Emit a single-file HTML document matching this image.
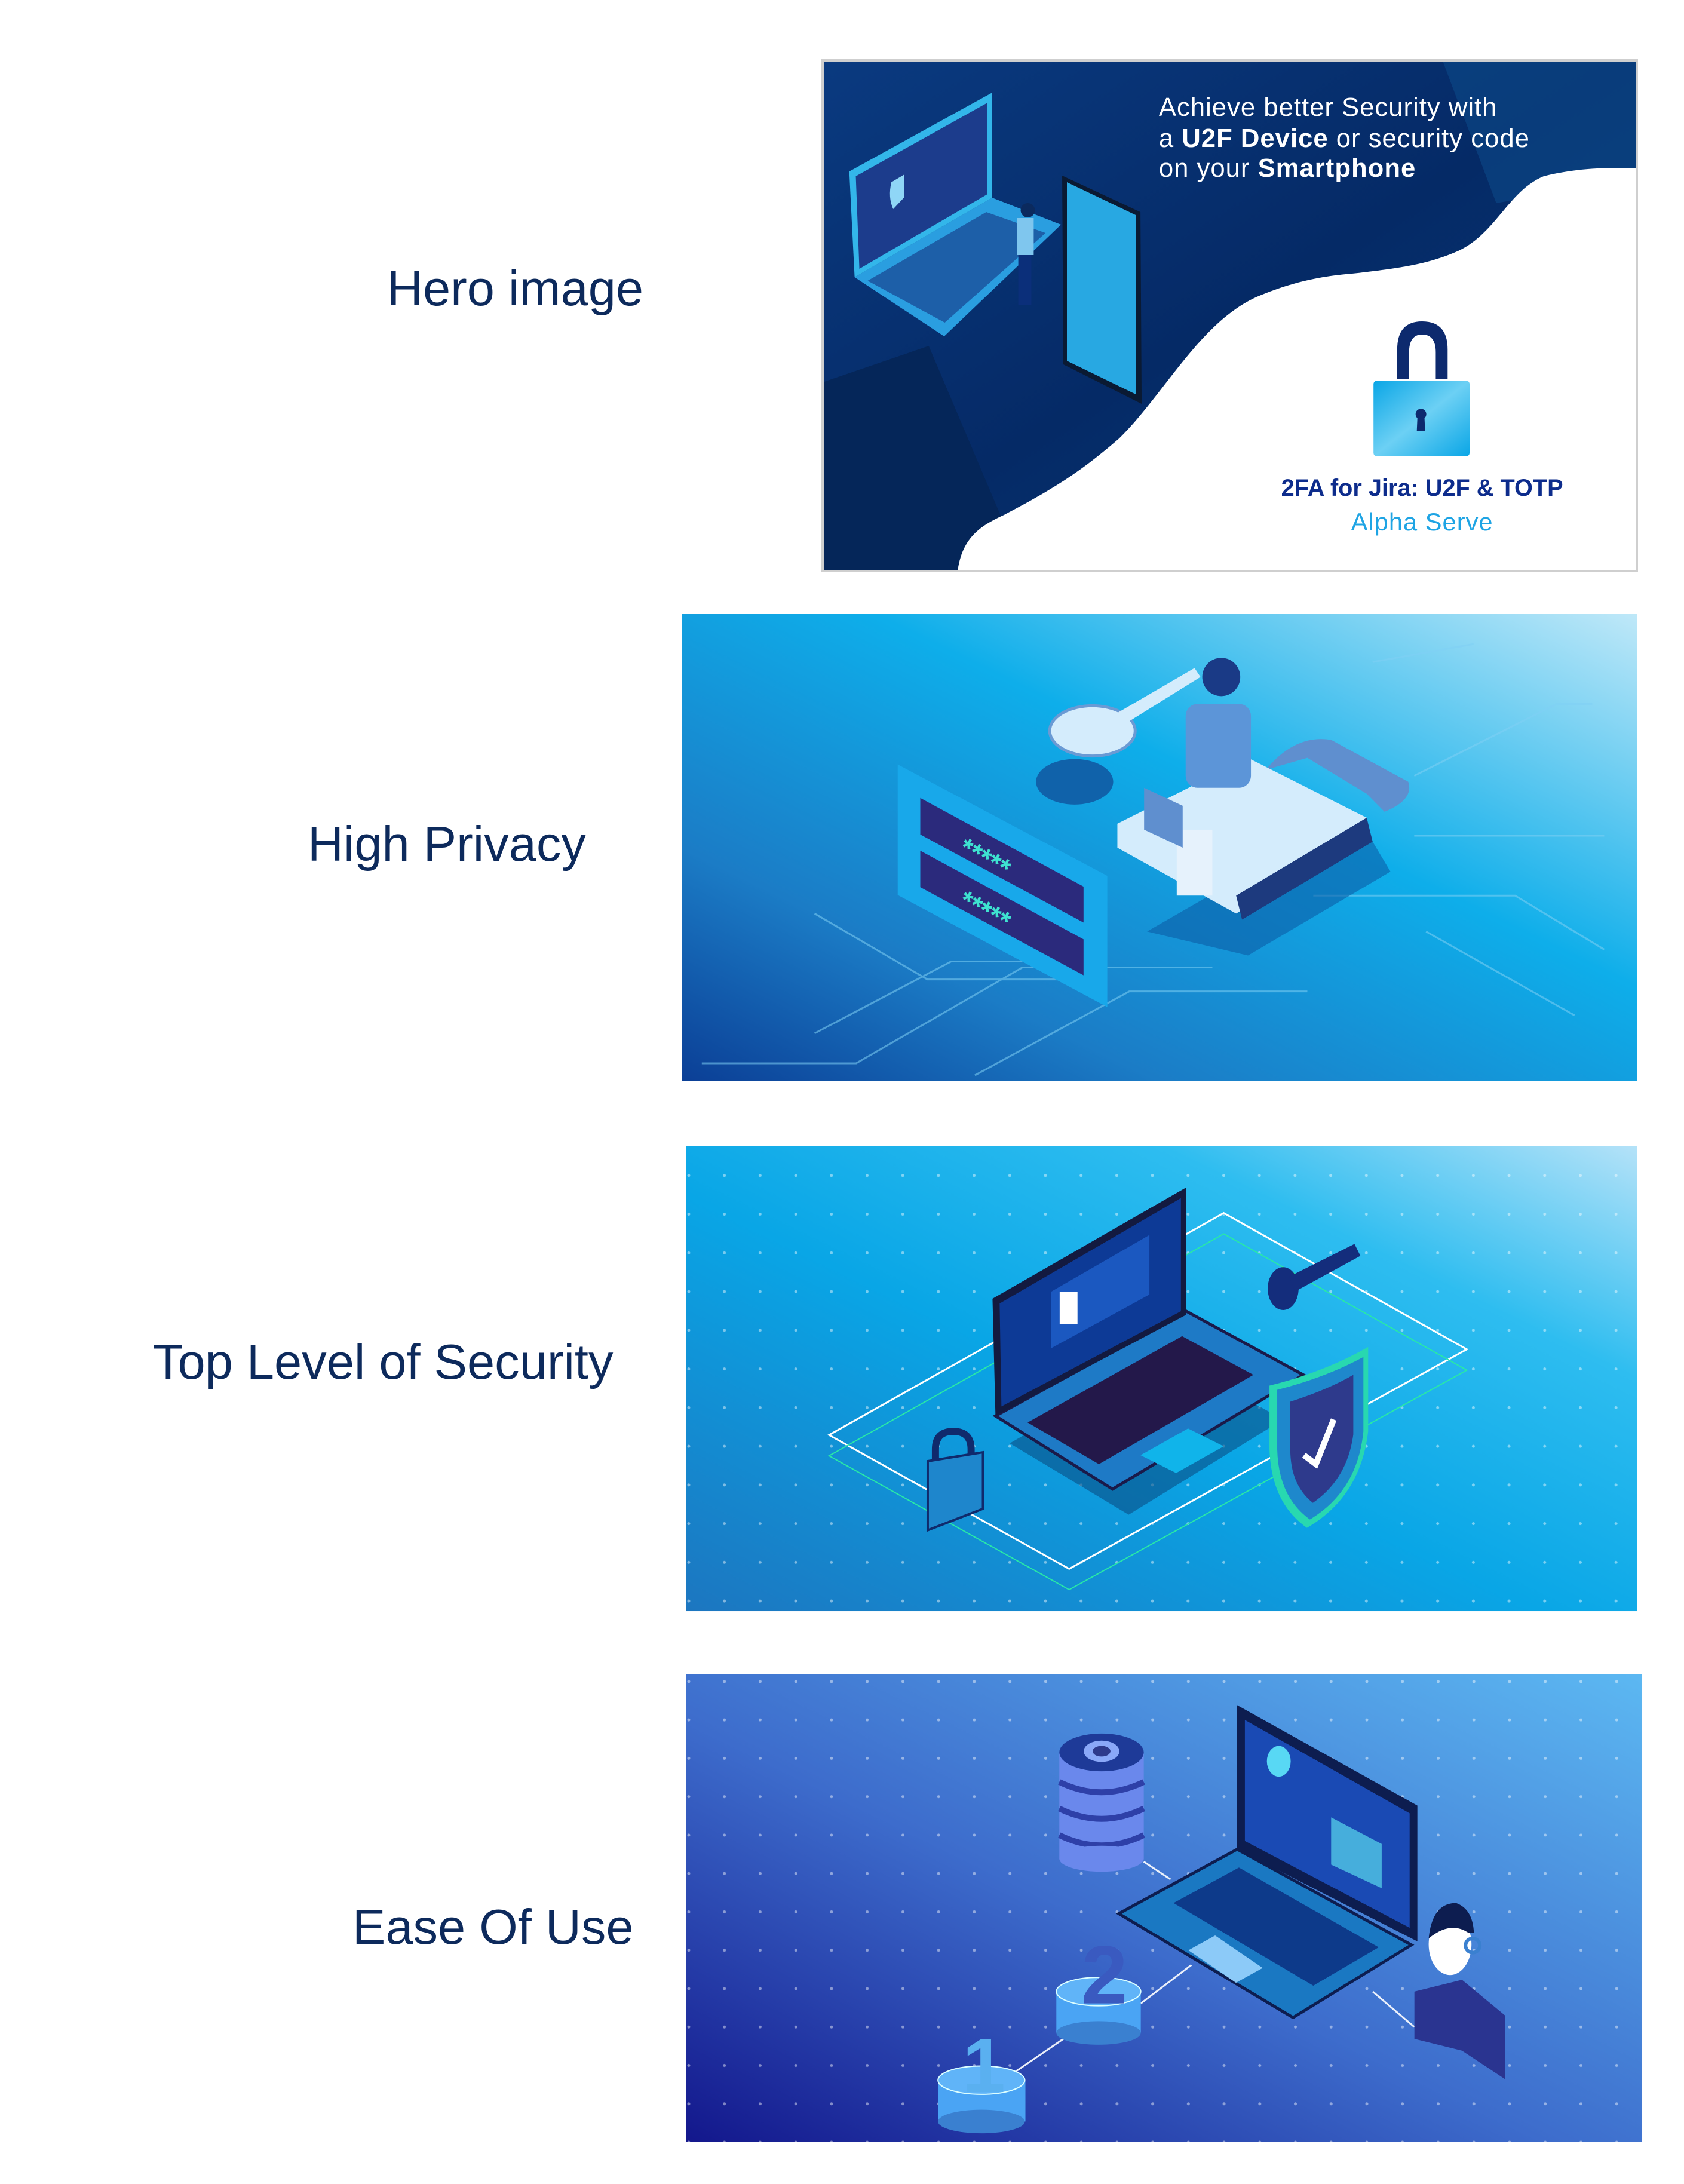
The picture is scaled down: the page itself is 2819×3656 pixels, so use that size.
<!DOCTYPE html>
<html><head><meta charset="utf-8"><style>
html,body{margin:0;padding:0;background:#fff;}
svg{display:block;}
</style></head><body>
<svg width="2819" height="3656" viewBox="0 0 2819 3656" xmlns="http://www.w3.org/2000/svg">
<defs>
<linearGradient id="g1" x1="0" y1="0" x2="1" y2="1"><stop offset="0" stop-color="#0a3a80"/><stop offset="0.5" stop-color="#052a66"/><stop offset="1" stop-color="#083d7c"/></linearGradient>
<linearGradient id="g2" x1="0" y1="1" x2="1" y2="0"><stop offset="0" stop-color="#0b3f96"/><stop offset="0.25" stop-color="#1b7cc6"/><stop offset="0.6" stop-color="#0eaeea"/><stop offset="1" stop-color="#bfe8f8"/></linearGradient>
<linearGradient id="g3" x1="0" y1="1" x2="1" y2="0"><stop offset="0" stop-color="#1c76c0"/><stop offset="0.45" stop-color="#09a6e6"/><stop offset="0.75" stop-color="#2ebdf0"/><stop offset="1" stop-color="#b4e2f8"/></linearGradient>
<linearGradient id="g4" x1="0" y1="1" x2="1" y2="0"><stop offset="0" stop-color="#13178c"/><stop offset="0.45" stop-color="#3d6ccc"/><stop offset="1" stop-color="#5cb8f2"/></linearGradient>
<linearGradient id="lk" x1="0" y1="0" x2="1" y2="1"><stop offset="0" stop-color="#0aa6e6"/><stop offset="0.5" stop-color="#6cd0f4"/><stop offset="1" stop-color="#0aa6e6"/></linearGradient>
<pattern id="dots" x="0" y="0" width="60" height="65" patternUnits="userSpaceOnUse"><circle cx="20" cy="20" r="2.5" fill="#ffffff" opacity="0.45"/></pattern>
</defs>

<!-- labels -->
<g font-family="Liberation Sans, Arial, sans-serif" fill="#0d2a5c" font-size="83">
<text x="648" y="511">Hero image</text>
<text x="515" y="1441">High Privacy</text>
<text x="256" y="2308">Top Level of Security</text>
<text x="590" y="3254">Ease Of Use</text>
</g>

<!-- HERO -->
<g transform="translate(1377,103) scale(0.9927,1.0) translate(-1384,-103)">
<rect x="1384" y="103" width="1372" height="851" fill="url(#g1)"/>
<polygon points="2430,103 2756,103 2756,300 2520,340" fill="#0b4a88" opacity="0.6"/>
<polygon points="1384,640 1563,579 1723,954 1384,954" fill="#052659"/>
<polygon points="1438,464 1670,331 1786,376 1589,563" fill="#2a9ee0"/>
<polygon points="1460,470 1660,355 1760,390 1590,540" fill="#1d5fa8"/>
<polygon points="1429,287 1670,155 1670,331 1438,464" fill="#33b6ea"/>
<polygon points="1440,295 1662,172 1662,325 1446,450" fill="#1c3c8c"/>
<path d="M1500,305 L1522,292 L1522,330 L1503,350 Q1494,330 1500,305Z" fill="#8fd6f6"/>
<polygon points="1788,294 1920,355 1922,676 1790,610" fill="#0a1a33"/>
<polygon points="1796,305 1912,360 1912,660 1796,604" fill="#28a8e2"/>
<rect x="1714" y="420" width="22" height="90" fill="#0b2f7a"/>
<rect x="1712" y="365" width="28" height="62" fill="#7fc6ee"/>
<circle cx="1730" cy="352" r="12" fill="#0b2a5e"/>
<path d="M1612,954 C1620,900 1650,880 1690,862 C1790,810 1830,780 1884,734 C1960,660 2020,540 2116,497 C2180,470 2230,462 2277,458 C2370,448 2410,440 2456,420 C2520,390 2540,320 2600,295 C2660,280 2720,280 2756,282 L2756,954 Z" fill="#fff"/>
<path d="M2353,634 L2353,585 Q2353,538 2395,538 Q2438,538 2438,585 L2438,634 L2418,634 L2418,590 Q2418,560 2395,560 Q2373,560 2373,590 L2373,634 Z" fill="#0d2a6e"/>
<rect x="2313" y="637" width="162" height="127" rx="6" fill="url(#lk)"/>
<path d="M2387,700 a9,9 0 1 1 12,0 L2400,722 L2386,722 Z" fill="#0d2a6e"/>
<g font-family="Liberation Sans, Arial, sans-serif" fill="#fff" font-size="44" letter-spacing="1">
<text x="1951" y="194">Achieve better Security with</text>
<text x="1951" y="246">a <tspan font-weight="bold">U2F Device</tspan> or security code</text>
<text x="1951" y="296">on your <tspan font-weight="bold">Smartphone</tspan></text>
</g>
<text x="2395" y="830" text-anchor="middle" font-family="Liberation Sans, Arial, sans-serif" font-weight="bold" font-size="40" fill="#0d2c8c">2FA for Jira: U2F &amp; TOTP</text>
<text x="2395" y="888" text-anchor="middle" font-family="Liberation Sans, Arial, sans-serif" font-size="42" fill="#1ea4e4" letter-spacing="1">Alpha Serve</text>
</g>
<rect x="1377" y="101" width="1363" height="855" fill="none" stroke="#cfcfcf" stroke-width="4"/>

<!-- HIGH PRIVACY -->
<g transform="translate(1142,1028) scale(0.9938,1.0026) translate(-1147,-1030)">
<rect x="1147" y="1030" width="1608" height="779" fill="url(#g2)"/>
<g stroke="#7fd0f4" stroke-width="3" fill="none" opacity="0.55">
<path d="M1180,1780 L1440,1780 L1720,1620 L2040,1620"/>
<path d="M1370,1730 L1600,1610 L1760,1610"/>
<path d="M1640,1800 L1900,1660 L2200,1660"/>
<path d="M2210,1500 L2550,1500 L2700,1590"/>
<path d="M2310,1110 L2480,1080 M2380,1300 L2620,1180 L2680,1180"/>
<path d="M2380,1400 L2600,1400 L2700,1400 M2400,1560 L2650,1700"/>
<path d="M1370,1530 L1560,1640 L1800,1640"/>
</g>
<polygon points="1930,1560 2280,1360 2340,1460 2100,1600" fill="#0c5ea6" opacity="0.6"/>
<path d="M2130,1290 Q2180,1230 2240,1240 L2370,1310 Q2380,1340 2330,1360 L2300,1330 L2200,1270 Z" fill="#5f8fcf"/>
<polygon points="1880,1380 2100,1270 2300,1370 2300,1400 2080,1530 1880,1420" fill="#d4ecfc"/>
<polygon points="2080,1500 2300,1370 2310,1410 2090,1540" fill="#1d3a7e"/>
<ellipse cx="1838" cy="1225" rx="72" ry="42" fill="#d4ecfc" stroke="#6a9ad4" stroke-width="5"/>
<polygon points="1880,1195 2010,1120 2020,1135 1890,1215" fill="#d4ecfc"/>
<ellipse cx="1808" cy="1310" rx="65" ry="38" fill="#1062aa"/>
<circle cx="2055" cy="1135" r="32" fill="#1a3a86"/>
<rect x="1995" y="1180" width="110" height="140" rx="20" fill="#5c95d8"/>
<rect x="1980" y="1390" width="60" height="110" fill="#e6f2fc"/>
<polygon points="1925,1320 1990,1350 1990,1420 1925,1390" fill="#5f8fcf"/>
<polygon points="1510,1281 1863,1467 1863,1686 1510,1499" fill="#18a8ea"/>
<polygon points="1548,1337 1823,1485 1823,1545 1548,1398" fill="#2b2a7c"/>
<polygon points="1548,1425 1823,1573 1823,1633 1548,1486" fill="#2b2a7c"/>
<g font-family="Liberation Sans, Arial, sans-serif" font-size="46" font-weight="bold" fill="#3ee2d0">
<text x="1610" y="1430" transform="rotate(28 1610 1430)">*****</text>
<text x="1610" y="1518" transform="rotate(28 1610 1518)">*****</text>
</g>
</g>

<!-- TOP LEVEL OF SECURITY -->
<g transform="translate(1148,1919) scale(0.995,0.9962) translate(-1155,-1921)">
<rect x="1155" y="1921" width="1600" height="781" fill="url(#g3)"/>
<rect x="1155" y="1921" width="1600" height="781" fill="url(#dots)"/>
<polygon points="1396,2406 2060,2033 2469,2262 1800,2631" fill="none" stroke="#fff" stroke-width="3"/>
<polygon points="1396,2441 2060,2068 2469,2297 1800,2666" fill="none" stroke="#28e8a8" stroke-width="2"/>
<polygon points="1700,2420 1960,2270 2160,2380 1900,2540" fill="#0a4f86" opacity="0.6"/>
<polygon points="1676,2374 1997,2198 2194,2305 1873,2497" fill="#1e7ac6" stroke="#1a1a4a" stroke-width="5"/>
<polygon points="1730,2385 1990,2240 2110,2305 1850,2455" fill="#23184a"/>
<polygon points="1920,2440 2000,2395 2060,2425 1980,2470" fill="#10b4ea"/>
<polygon points="1671,2177 1997,1990 1997,2204 1676,2374" fill="#131a40"/>
<polygon points="1683,2185 1988,2008 1988,2198 1686,2358" fill="#0d3a96"/>
<polygon points="1770,2165 1935,2070 1935,2170 1770,2260" fill="#1b58c0"/>
<rect x="1784" y="2165" width="30" height="55" fill="#fff"/>
<ellipse cx="2160" cy="2160" rx="26" ry="36" fill="#142d7c"/>
<polygon points="2170,2140 2280,2085 2290,2105 2180,2165" fill="#142d7c"/>
<path d="M2137,2323 Q2230,2300 2303,2258 L2303,2400 Q2290,2510 2200,2562 Q2140,2520 2137,2430 Z" fill="#28d8b0"/>
<path d="M2150,2330 Q2230,2310 2295,2275 L2295,2400 Q2285,2500 2205,2548 Q2152,2510 2150,2430 Z" fill="#1e88cc"/>
<path d="M2172,2350 Q2235,2330 2278,2305 L2278,2405 Q2268,2480 2210,2520 Q2172,2490 2172,2430 Z" fill="#2e3a8c"/>
<path d="M2195,2440 L2215,2455 L2245,2380" stroke="#fff" stroke-width="10" fill="none"/>
<path d="M1575,2450 L1575,2430 Q1575,2400 1605,2400 Q1635,2400 1635,2430 L1635,2450" stroke="#102a6c" stroke-width="12" fill="none"/>
<polygon points="1562,2450 1655,2435 1655,2530 1562,2566" fill="#1e86cc" stroke="#102a6c" stroke-width="4"/>
</g>

<!-- EASE OF USE -->
<g transform="translate(1148,2803) scale(0.99565,0.98864) translate(-1155,-2803)">
<rect x="1155" y="2803" width="1608" height="792" fill="url(#g4)"/>
<rect x="1155" y="2803" width="1608" height="792" fill="url(#dots)"/>
<g fill="none" stroke="#fff" stroke-width="3" opacity="0.9">
<line x1="1925" y1="3120" x2="1970" y2="3150"/>
<line x1="1920" y1="3360" x2="2005" y2="3295"/>
<line x1="1710" y1="3475" x2="1790" y2="3420"/>
<line x1="2310" y1="3340" x2="2380" y2="3400"/>
</g>
<polygon points="1883,3208 2082,3099 2375,3261 2176,3384" fill="#1a78c2" stroke="#0d1d50" stroke-width="5"/>
<polygon points="1975,3190 2085,3130 2320,3265 2210,3330" fill="#0d3a8a"/>
<polygon points="2000,3270 2045,3245 2125,3300 2080,3325" fill="#8ccaf8"/>
<polygon points="2082,2855 2385,3025 2385,3255 2082,3099" fill="#0d1d50"/>
<polygon points="2095,2880 2372,3038 2372,3232 2095,3085" fill="#1a4ab4"/>
<ellipse cx="2152" cy="2950" rx="20" ry="26" fill="#58d8f4"/>
<polygon points="2240,3045 2325,3090 2325,3165 2240,3125" fill="#46aedc"/>
<rect x="1783" y="2935" width="142" height="180" fill="#6a88ec"/>
<g fill="none" stroke="#2e40a8" stroke-width="10">
<path d="M1783,2985 Q1854,3020 1925,2985"/><path d="M1783,3030 Q1854,3065 1925,3030"/><path d="M1783,3075 Q1854,3110 1925,3075"/>
</g>
<ellipse cx="1854" cy="3115" rx="71" ry="22" fill="#6a88ec"/>
<ellipse cx="1854" cy="2935" rx="71" ry="32" fill="#1e3a98"/>
<ellipse cx="1854" cy="2933" rx="30" ry="18" fill="#8aa8f8"/>
<ellipse cx="1854" cy="2933" rx="15" ry="9" fill="#2e3a8c"/>
<rect x="1778" y="3340" width="142" height="70" fill="#4aa4f4"/>
<ellipse cx="1849" cy="3410" rx="71" ry="20" fill="#3a80d0"/>
<ellipse cx="1849" cy="3340" rx="71" ry="24" fill="#60b4f8" stroke="#dff" stroke-width="2"/>
<text x="1820" y="3360" font-family="Liberation Sans, Arial, sans-serif" font-size="140" fill="#3a5ac0" font-weight="bold">2</text>
<rect x="1579" y="3490" width="147" height="70" fill="#4aa4f4"/>
<ellipse cx="1652" cy="3560" rx="73" ry="20" fill="#3a80d0"/>
<ellipse cx="1652" cy="3490" rx="73" ry="24" fill="#60b4f8" stroke="#dff" stroke-width="2"/>
<text x="1620" y="3510" font-family="Liberation Sans, Arial, sans-serif" font-size="130" fill="#5ab0f0" font-weight="bold">1</text>
<polygon points="2380,3340 2460,3320 2532,3380 2532,3488 2460,3440 2380,3420" fill="#2a3490"/>
<ellipse cx="2440" cy="3260" rx="36" ry="52" fill="#fff"/>
<path d="M2404,3250 Q2410,3190 2450,3190 Q2478,3200 2480,3240 L2470,3240 Q2440,3220 2404,3250Z" fill="#0d1d50"/>
<circle cx="2478" cy="3262" r="12" fill="none" stroke="#3a80d0" stroke-width="6"/>
</g>
</svg>
</body></html>
